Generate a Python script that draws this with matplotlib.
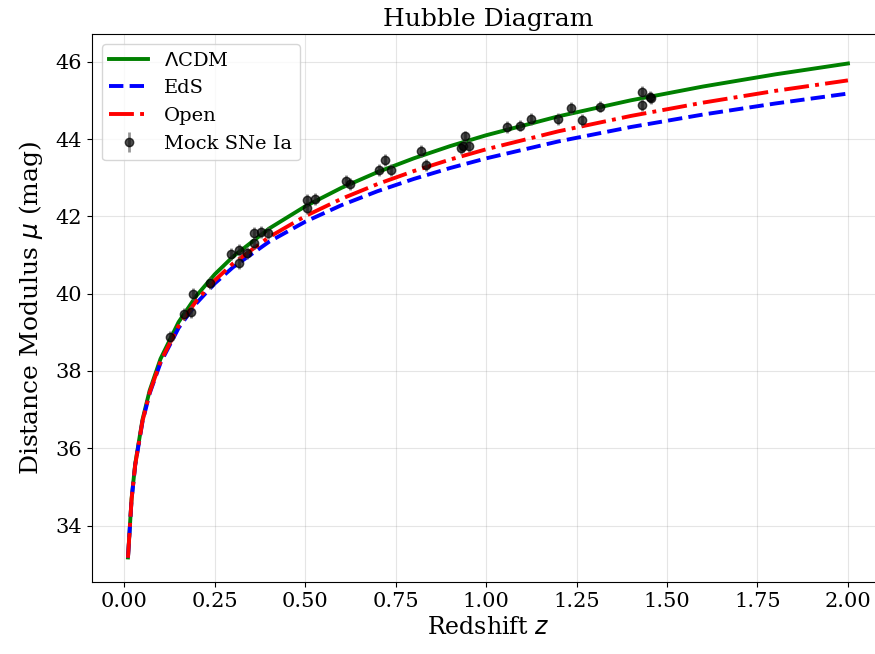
import matplotlib
matplotlib.use("Agg")
import matplotlib.pyplot as plt
import numpy as np

plt.rcParams['font.family'] = 'DejaVu Serif'

# model curves, values
z_model = [0.01, 0.02, 0.03, 0.05, 0.07, 0.10, 0.15, 0.20, 0.25, 0.30, 0.40, 0.50,
           0.60, 0.70, 0.80, 0.90, 1.00, 1.20, 1.40, 1.60, 1.80, 2.00]
mu_lcdm = [33.175, 34.697, 35.594, 36.735, 37.496, 38.315, 39.266, 39.956, 40.502,
           40.956, 41.685, 42.261, 42.739, 43.147, 43.503, 43.818, 44.100, 44.590,
           45.004, 45.362, 45.677, 45.957]
mu_eds = [33.164, 34.675, 35.560, 36.680, 37.421, 38.210, 39.114, 39.760, 40.266,
          40.682, 41.344, 41.863, 42.290, 42.653, 42.970, 43.251, 43.502, 43.941,
          44.313, 44.637, 44.923, 45.179]
mu_open = [33.166, 34.681, 35.570, 36.697, 37.445, 38.245, 39.165, 39.828, 40.347,
           40.778, 41.465, 42.007, 42.455, 42.838, 43.173, 43.470, 43.737, 44.203,
           44.600, 44.945, 45.250, 45.520]

# mock supernovae
z_sn = [0.127, 0.166, 0.183, 0.191, 0.238, 0.296, 0.318, 0.318, 0.338, 0.357, 0.357,
        0.379, 0.396, 0.506, 0.506, 0.526, 0.614, 0.625, 0.705, 0.720, 0.736, 0.821,
        0.835, 0.931, 0.936, 0.941, 0.952, 1.058, 1.093, 1.125, 1.200, 1.234, 1.265,
        1.314, 1.431, 1.431, 1.452, 1.457]
mu_sn = [38.88, 39.47, 39.53, 39.99, 40.28, 41.03, 41.13, 40.80, 41.05, 41.57, 41.31,
         41.60, 41.57, 42.43, 42.22, 42.45, 42.92, 42.84, 43.20, 43.46, 43.20, 43.70,
         43.33, 43.76, 43.81, 44.07, 43.82, 44.31, 44.35, 44.52, 44.52, 44.80, 44.50,
         44.84, 45.23, 44.89, 45.09, 45.06]
err_sn = [0.15] * len(z_sn)

fig = plt.figure(figsize=(8.75, 6.54), dpi=100)
ax = fig.add_axes([0.1051, 0.1101, 0.9051, 0.8379])

ax.plot(z_model, mu_lcdm, color="green", lw=2.8, label=r"$\Lambda$CDM")
ax.plot(z_model, mu_eds, color="blue", lw=2.8, ls="--", label="EdS")
ax.plot(z_model, mu_open, color="red", lw=2.8, ls="-.", label="Open")
ax.errorbar(z_sn, mu_sn, yerr=err_sn, fmt="o", color="k", ms=6, alpha=0.7,
            ecolor="dimgray", elinewidth=2, label="Mock SNe Ia")

ax.set_xlim(-0.0895, 2.0995)
ax.set_ylim(32.54, 46.72)
ax.set_xticks(np.arange(0, 2.01, 0.25))
ax.set_yticks(np.arange(34, 46.1, 2))
ax.tick_params(labelsize=15)
ax.grid(True, color="gray", alpha=0.2)

ax.set_xlabel("Redshift $z$", fontsize=17)
ax.set_ylabel(r"Distance Modulus $\mu$ (mag)", fontsize=18, labelpad=8)
ax.set_title("Hubble Diagram", fontsize=18)
ax.legend(loc="upper left", fontsize=14)

fig.savefig("out.png", dpi=100)
